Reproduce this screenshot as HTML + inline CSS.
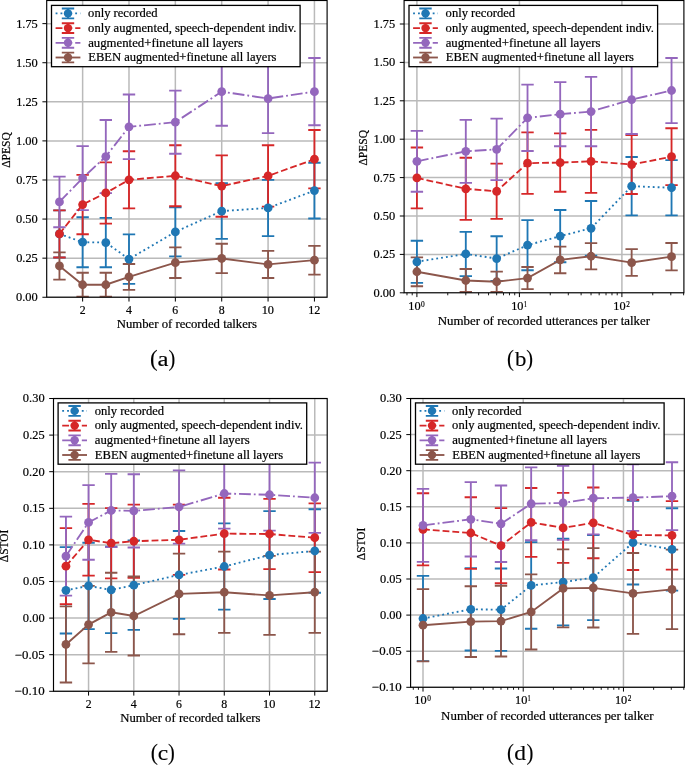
<!DOCTYPE html>
<html><head><meta charset="utf-8"><style>
html,body{margin:0;padding:0;background:#fff;}
svg{display:block;will-change:transform;font-family:"Liberation Serif",serif;}
text{stroke:#000;stroke-width:0.2px;}
</style></head><body>
<svg width="685" height="765" viewBox="0 0 685 765">
<rect width="685" height="765" fill="#fff"/>
<clipPath id="clipa"><rect x="46.7" y="0.5" width="280.40000000000003" height="296.75"/></clipPath>
<path d="M82.63 0.5V297.25 M128.99 0.5V297.25 M175.35 0.5V297.25 M221.71 0.5V297.25 M268.07 0.5V297.25 M314.43 0.5V297.25 M46.7 297.25H327.1 M46.7 258.16H327.1 M46.7 219.07H327.1 M46.7 179.99H327.1 M46.7 140.90H327.1 M46.7 101.81H327.1 M46.7 62.73H327.1 M46.7 23.64H327.1" stroke="#bababa" stroke-width="1.5" fill="none" clip-path="url(#clipa)"/>
<g clip-path="url(#clipa)">
<path d="M59.45 210.32V257.54 M53.25 210.32H65.65 M53.25 257.54H65.65 M82.63 217.20V267.23 M76.43 217.20H88.83 M76.43 267.23H88.83 M105.81 217.82V267.23 M99.61 217.82H112.01 M99.61 267.23H112.01 M128.99 234.40V283.80 M122.79 234.40H135.19 M122.79 283.80H135.19 M175.35 207.35V256.44 M169.15 207.35H181.55 M169.15 256.44H181.55 M221.71 183.27V238.93 M215.51 183.27H227.91 M215.51 238.93H227.91 M268.07 179.83V236.12 M261.87 179.83H274.27 M261.87 236.12H274.27 M314.43 162.79V218.45 M308.23 162.79H320.63 M308.23 218.45H320.63" stroke="#1f77b4" stroke-width="1.85" fill="none"/>
<path d="M59.45 210.32V257.54 M53.25 210.32H65.65 M53.25 257.54H65.65 M82.63 174.83V234.24 M76.43 174.83H88.83 M76.43 234.24H88.83 M105.81 162.32V223.61 M99.61 162.32H112.01 M99.61 223.61H112.01 M128.99 151.22V208.44 M122.79 151.22H135.19 M122.79 208.44H135.19 M175.35 145.28V206.25 M169.15 145.28H181.55 M169.15 206.25H181.55 M221.71 155.44V216.73 M215.51 155.44H227.91 M215.51 216.73H227.91 M268.07 145.28V206.57 M261.87 145.28H274.27 M261.87 206.57H274.27 M314.43 129.96V188.43 M308.23 129.96H320.63 M308.23 188.43H320.63" stroke="#d62728" stroke-width="1.85" fill="none"/>
<path d="M59.45 176.55V227.21 M53.25 176.55H65.65 M53.25 227.21H65.65 M82.63 146.06V210.16 M76.43 146.06H88.83 M76.43 210.16H88.83 M105.81 119.95V193.12 M99.61 119.95H112.01 M99.61 193.12H112.01 M128.99 94.46V159.19 M122.79 94.46H135.19 M122.79 159.19H135.19 M175.35 90.56V153.72 M169.15 90.56H181.55 M169.15 153.72H181.55 M221.71 57.57V125.73 M215.51 57.57H227.91 M215.51 125.73H227.91 M268.07 63.98V133.08 M261.87 63.98H274.27 M261.87 133.08H274.27 M314.43 58.03V125.27 M308.23 58.03H320.63 M308.23 125.27H320.63" stroke="#9467bd" stroke-width="1.85" fill="none"/>
<path d="M59.45 252.38V279.58 M53.25 252.38H65.65 M53.25 279.58H65.65 M82.63 272.70V296.78 M76.43 272.70H88.83 M76.43 296.78H88.83 M105.81 272.70V296.78 M99.61 272.70H112.01 M99.61 296.78H112.01 M128.99 263.95V289.90 M122.79 263.95H135.19 M122.79 289.90H135.19 M175.35 247.37V278.02 M169.15 247.37H181.55 M169.15 278.02H181.55 M221.71 243.78V273.17 M215.51 243.78H227.91 M215.51 273.17H227.91 M268.07 250.81V278.02 M261.87 250.81H274.27 M261.87 278.02H274.27 M314.43 245.81V274.58 M308.23 245.81H320.63 M308.23 274.58H320.63" stroke="#8c564b" stroke-width="1.85" fill="none"/>
<polyline points="59.45,233.93 82.63,242.21 105.81,242.53 128.99,259.10 175.35,231.90 221.71,211.10 268.07,207.97 314.43,190.62" stroke="#1f77b4" stroke-width="1.85" fill="none" stroke-dasharray="1.85,3.05"/>
<circle cx="59.45" cy="233.93" r="4.4" fill="#1f77b4"/>
<circle cx="82.63" cy="242.21" r="4.4" fill="#1f77b4"/>
<circle cx="105.81" cy="242.53" r="4.4" fill="#1f77b4"/>
<circle cx="128.99" cy="259.10" r="4.4" fill="#1f77b4"/>
<circle cx="175.35" cy="231.90" r="4.4" fill="#1f77b4"/>
<circle cx="221.71" cy="211.10" r="4.4" fill="#1f77b4"/>
<circle cx="268.07" cy="207.97" r="4.4" fill="#1f77b4"/>
<circle cx="314.43" cy="190.62" r="4.4" fill="#1f77b4"/>
<polyline points="59.45,233.93 82.63,204.53 105.81,192.96 128.99,179.83 175.35,175.77 221.71,186.09 268.07,175.92 314.43,159.19" stroke="#d62728" stroke-width="1.85" fill="none" stroke-dasharray="6.85,2.96"/>
<circle cx="59.45" cy="233.93" r="4.4" fill="#d62728"/>
<circle cx="82.63" cy="204.53" r="4.4" fill="#d62728"/>
<circle cx="105.81" cy="192.96" r="4.4" fill="#d62728"/>
<circle cx="128.99" cy="179.83" r="4.4" fill="#d62728"/>
<circle cx="175.35" cy="175.77" r="4.4" fill="#d62728"/>
<circle cx="221.71" cy="186.09" r="4.4" fill="#d62728"/>
<circle cx="268.07" cy="175.92" r="4.4" fill="#d62728"/>
<circle cx="314.43" cy="159.19" r="4.4" fill="#d62728"/>
<polyline points="59.45,201.88 82.63,178.11 105.81,156.53 128.99,126.83 175.35,122.14 221.71,91.65 268.07,98.53 314.43,91.65" stroke="#9467bd" stroke-width="1.85" fill="none" stroke-dasharray="11.84,2.96,1.85,2.96"/>
<circle cx="59.45" cy="201.88" r="4.4" fill="#9467bd"/>
<circle cx="82.63" cy="178.11" r="4.4" fill="#9467bd"/>
<circle cx="105.81" cy="156.53" r="4.4" fill="#9467bd"/>
<circle cx="128.99" cy="126.83" r="4.4" fill="#9467bd"/>
<circle cx="175.35" cy="122.14" r="4.4" fill="#9467bd"/>
<circle cx="221.71" cy="91.65" r="4.4" fill="#9467bd"/>
<circle cx="268.07" cy="98.53" r="4.4" fill="#9467bd"/>
<circle cx="314.43" cy="91.65" r="4.4" fill="#9467bd"/>
<polyline points="59.45,265.98 82.63,284.74 105.81,284.74 128.99,276.92 175.35,262.70 221.71,258.48 268.07,264.42 314.43,260.20" stroke="#8c564b" stroke-width="1.85" fill="none" />
<circle cx="59.45" cy="265.98" r="4.4" fill="#8c564b"/>
<circle cx="82.63" cy="284.74" r="4.4" fill="#8c564b"/>
<circle cx="105.81" cy="284.74" r="4.4" fill="#8c564b"/>
<circle cx="128.99" cy="276.92" r="4.4" fill="#8c564b"/>
<circle cx="175.35" cy="262.70" r="4.4" fill="#8c564b"/>
<circle cx="221.71" cy="258.48" r="4.4" fill="#8c564b"/>
<circle cx="268.07" cy="264.42" r="4.4" fill="#8c564b"/>
<circle cx="314.43" cy="260.20" r="4.4" fill="#8c564b"/>
</g>
<rect x="46.7" y="0.5" width="280.40000000000003" height="296.75" fill="none" stroke="#000" stroke-width="1.15"/>
<path d="M82.63 297.25v4.3 M128.99 297.25v4.3 M175.35 297.25v4.3 M221.71 297.25v4.3 M268.07 297.25v4.3 M314.43 297.25v4.3 M46.7 297.25h-4.3 M46.7 258.16h-4.3 M46.7 219.07h-4.3 M46.7 179.99h-4.3 M46.7 140.90h-4.3 M46.7 101.81h-4.3 M46.7 62.73h-4.3 M46.7 23.64h-4.3" stroke="#000" stroke-width="1"/>
<text x="16.06" y="301.15" font-size="12.0" textLength="21.73" lengthAdjust="spacingAndGlyphs" fill="#000" >0.00</text>
<text x="16.16" y="262.06" font-size="12.0" textLength="21.63" lengthAdjust="spacingAndGlyphs" fill="#000" >0.25</text>
<text x="16.06" y="222.97" font-size="12.0" textLength="21.73" lengthAdjust="spacingAndGlyphs" fill="#000" >0.50</text>
<text x="16.16" y="183.89" font-size="12.0" textLength="21.63" lengthAdjust="spacingAndGlyphs" fill="#000" >0.75</text>
<text x="16.05" y="144.80" font-size="12.0" textLength="21.75" lengthAdjust="spacingAndGlyphs" fill="#000" >1.00</text>
<text x="16.15" y="105.71" font-size="12.0" textLength="21.64" lengthAdjust="spacingAndGlyphs" fill="#000" >1.25</text>
<text x="16.05" y="66.63" font-size="12.0" textLength="21.75" lengthAdjust="spacingAndGlyphs" fill="#000" >1.50</text>
<text x="16.15" y="27.54" font-size="12.0" textLength="21.64" lengthAdjust="spacingAndGlyphs" fill="#000" >1.75</text>
<text x="79.75" y="313.55" font-size="12.0" textLength="5.88" lengthAdjust="spacingAndGlyphs" fill="#000" >2</text>
<text x="126.01" y="313.55" font-size="12.0" textLength="5.91" lengthAdjust="spacingAndGlyphs" fill="#000" >4</text>
<text x="172.35" y="313.55" font-size="12.0" textLength="5.87" lengthAdjust="spacingAndGlyphs" fill="#000" >6</text>
<text x="218.73" y="313.55" font-size="12.0" textLength="5.95" lengthAdjust="spacingAndGlyphs" fill="#000" >8</text>
<text x="261.65" y="313.55" font-size="12.0" textLength="12.28" lengthAdjust="spacingAndGlyphs" fill="#000" >10</text>
<text x="308.17" y="313.55" font-size="12.0" textLength="12.14" lengthAdjust="spacingAndGlyphs" fill="#000" >12</text>
<text x="116.77" y="327.80" font-size="12.0" textLength="140.29" lengthAdjust="spacingAndGlyphs" fill="#000" >Number of recorded talkers</text>
<text transform="translate(10.30,149.88) rotate(-90)" x="-17.96" y="0" font-size="12.0" textLength="35.67" lengthAdjust="spacingAndGlyphs" fill="#000" >ΔPESQ</text>
<rect x="51.50" y="5.40" width="248.6" height="61.3" fill="#fff" stroke="#000" stroke-width="1.3"/>
<path d="M68.00 8.50V18.30M61.80 8.50H74.20M61.80 18.30H74.20" stroke="#1f77b4" stroke-width="1.85" fill="none"/>
<path d="M55.60 13.40H80.40" stroke="#1f77b4" stroke-width="1.85" fill="none" stroke-dasharray="1.85,3.05"/>
<circle cx="68.00" cy="13.40" r="4.2" fill="#1f77b4"/>
<text x="88.10" y="17.20" font-size="12.0" textLength="69.44" lengthAdjust="spacingAndGlyphs" fill="#000" >only recorded</text>
<path d="M68.00 23.20V33.00M61.80 23.20H74.20M61.80 33.00H74.20" stroke="#d62728" stroke-width="1.85" fill="none"/>
<path d="M55.60 28.10H80.40" stroke="#d62728" stroke-width="1.85" fill="none" stroke-dasharray="6.85,2.96"/>
<circle cx="68.00" cy="28.10" r="4.2" fill="#d62728"/>
<text x="88.10" y="31.90" font-size="12.0" textLength="208.31" lengthAdjust="spacingAndGlyphs" fill="#000" >only augmented, speech-dependent indiv.</text>
<path d="M68.00 37.90V47.70M61.80 37.90H74.20M61.80 47.70H74.20" stroke="#9467bd" stroke-width="1.85" fill="none"/>
<path d="M55.60 42.80H80.40" stroke="#9467bd" stroke-width="1.85" fill="none" stroke-dasharray="11.84,2.96,1.85,2.96"/>
<circle cx="68.00" cy="42.80" r="4.2" fill="#9467bd"/>
<text x="88.15" y="46.60" font-size="12.0" textLength="154.88" lengthAdjust="spacingAndGlyphs" fill="#000" >augmented+finetune all layers</text>
<path d="M68.00 52.60V62.40M61.80 52.60H74.20M61.80 62.40H74.20" stroke="#8c564b" stroke-width="1.85" fill="none"/>
<path d="M55.60 57.50H80.40" stroke="#8c564b" stroke-width="1.85" fill="none" />
<circle cx="68.00" cy="57.50" r="4.2" fill="#8c564b"/>
<text x="88.22" y="61.30" font-size="12.0" textLength="188.28" lengthAdjust="spacingAndGlyphs" fill="#000" >EBEN augmented+finetune all layers</text>
<text x="150.06" y="365.70" font-size="22.3" textLength="7.71" lengthAdjust="spacingAndGlyphs" style="stroke-width:0.12px">(</text>
<text x="157.43" y="365.70" font-size="20.5" textLength="11.01" lengthAdjust="spacingAndGlyphs" style="stroke-width:0.12px">a</text>
<text x="168.39" y="365.70" font-size="22.3" textLength="6.79" lengthAdjust="spacingAndGlyphs" style="stroke-width:0.12px">)</text>
<clipPath id="clipb"><rect x="404.1" y="0.5" width="279.79999999999995" height="292.3"/></clipPath>
<path d="M416.90 0.5V292.8 M519.40 0.5V292.8 M621.90 0.5V292.8 M404.1 292.80H683.9 M404.1 254.40H683.9 M404.1 216.00H683.9 M404.1 177.60H683.9 M404.1 139.20H683.9 M404.1 100.80H683.9 M404.1 62.40H683.9 M404.1 24.00H683.9" stroke="#bababa" stroke-width="1.5" fill="none" clip-path="url(#clipb)"/>
<g clip-path="url(#clipb)">
<path d="M416.90 240.73V282.82 M410.70 240.73H423.10 M410.70 282.82H423.10 M465.80 231.82V276.06 M459.60 231.82H472.00 M459.60 276.06H472.00 M496.66 236.28V280.82 M490.46 236.28H502.86 M490.46 280.82H502.86 M527.52 220.15V270.22 M521.32 220.15H533.72 M521.32 270.22H533.72 M560.19 210.01V262.23 M553.99 210.01H566.39 M553.99 262.23H566.39 M591.04 200.95V255.63 M584.84 200.95H597.24 M584.84 255.63H597.24 M631.65 157.02V215.39 M625.45 157.02H637.85 M625.45 215.39H637.85 M671.54 160.09V215.39 M665.34 160.09H677.74 M665.34 215.39H677.74" stroke="#1f77b4" stroke-width="1.85" fill="none"/>
<path d="M416.90 147.49V208.32 M410.70 147.49H423.10 M410.70 208.32H423.10 M465.80 157.79V219.84 M459.60 157.79H472.00 M459.60 219.84H472.00 M496.66 163.62V218.92 M490.46 163.62H502.86 M490.46 218.92H502.86 M527.52 132.44V193.88 M521.32 132.44H533.72 M521.32 193.88H533.72 M560.19 133.36V191.73 M553.99 133.36H566.39 M553.99 191.73H566.39 M591.04 129.83V192.81 M584.84 129.83H597.24 M584.84 192.81H597.24 M631.65 135.05V194.04 M625.45 135.05H637.85 M625.45 194.04H637.85 M671.54 128.29V185.13 M665.34 128.29H677.74 M665.34 185.13H677.74" stroke="#d62728" stroke-width="1.85" fill="none"/>
<path d="M416.90 130.91V191.73 M410.70 130.91H423.10 M410.70 191.73H423.10 M465.80 119.85V182.82 M459.60 119.85H472.00 M459.60 182.82H472.00 M496.66 118.62V180.06 M490.46 118.62H502.86 M490.46 180.06H502.86 M527.52 84.67V151.03 M521.32 84.67H533.72 M521.32 151.03H533.72 M560.19 82.06V146.27 M553.99 82.06H566.39 M553.99 146.27H566.39 M591.04 76.84V146.27 M584.84 76.84H597.24 M584.84 146.27H597.24 M631.65 65.16V133.98 M625.45 65.16H637.85 M625.45 133.98H637.85 M671.54 57.95V123.07 M665.34 57.95H677.74 M665.34 123.07H677.74" stroke="#9467bd" stroke-width="1.85" fill="none"/>
<path d="M416.90 257.32V286.20 M410.70 257.32H423.10 M410.70 286.20H423.10 M465.80 268.99V292.03 M459.60 268.99H472.00 M459.60 292.03H472.00 M496.66 271.60V291.88 M490.46 271.60H502.86 M490.46 291.88H502.86 M527.52 267.00V289.11 M521.32 267.00H533.72 M521.32 289.11H533.72 M560.19 246.57V273.29 M553.99 246.57H566.39 M553.99 273.29H566.39 M591.04 243.19V269.30 M584.84 243.19H597.24 M584.84 269.30H597.24 M631.65 249.18V275.90 M625.45 249.18H637.85 M625.45 275.90H637.85 M671.54 243.03V270.37 M665.34 243.03H677.74 M665.34 270.37H677.74" stroke="#8c564b" stroke-width="1.85" fill="none"/>
<polyline points="416.90,261.77 465.80,253.94 496.66,258.55 527.52,245.18 560.19,236.12 591.04,228.29 631.65,186.20 671.54,187.74" stroke="#1f77b4" stroke-width="1.85" fill="none" stroke-dasharray="1.85,3.05"/>
<circle cx="416.90" cy="261.77" r="4.4" fill="#1f77b4"/>
<circle cx="465.80" cy="253.94" r="4.4" fill="#1f77b4"/>
<circle cx="496.66" cy="258.55" r="4.4" fill="#1f77b4"/>
<circle cx="527.52" cy="245.18" r="4.4" fill="#1f77b4"/>
<circle cx="560.19" cy="236.12" r="4.4" fill="#1f77b4"/>
<circle cx="591.04" cy="228.29" r="4.4" fill="#1f77b4"/>
<circle cx="631.65" cy="186.20" r="4.4" fill="#1f77b4"/>
<circle cx="671.54" cy="187.74" r="4.4" fill="#1f77b4"/>
<polyline points="416.90,177.91 465.80,188.81 496.66,191.27 527.52,163.16 560.19,162.55 591.04,161.32 631.65,164.54 671.54,156.71" stroke="#d62728" stroke-width="1.85" fill="none" stroke-dasharray="6.85,2.96"/>
<circle cx="416.90" cy="177.91" r="4.4" fill="#d62728"/>
<circle cx="465.80" cy="188.81" r="4.4" fill="#d62728"/>
<circle cx="496.66" cy="191.27" r="4.4" fill="#d62728"/>
<circle cx="527.52" cy="163.16" r="4.4" fill="#d62728"/>
<circle cx="560.19" cy="162.55" r="4.4" fill="#d62728"/>
<circle cx="591.04" cy="161.32" r="4.4" fill="#d62728"/>
<circle cx="631.65" cy="164.54" r="4.4" fill="#d62728"/>
<circle cx="671.54" cy="156.71" r="4.4" fill="#d62728"/>
<polyline points="416.90,161.32 465.80,151.33 496.66,149.34 527.52,117.85 560.19,114.16 591.04,111.55 631.65,99.57 671.54,90.51" stroke="#9467bd" stroke-width="1.85" fill="none" stroke-dasharray="11.84,2.96,1.85,2.96"/>
<circle cx="416.90" cy="161.32" r="4.4" fill="#9467bd"/>
<circle cx="465.80" cy="151.33" r="4.4" fill="#9467bd"/>
<circle cx="496.66" cy="149.34" r="4.4" fill="#9467bd"/>
<circle cx="527.52" cy="117.85" r="4.4" fill="#9467bd"/>
<circle cx="560.19" cy="114.16" r="4.4" fill="#9467bd"/>
<circle cx="591.04" cy="111.55" r="4.4" fill="#9467bd"/>
<circle cx="631.65" cy="99.57" r="4.4" fill="#9467bd"/>
<circle cx="671.54" cy="90.51" r="4.4" fill="#9467bd"/>
<polyline points="416.90,271.76 465.80,280.51 496.66,281.74 527.52,278.05 560.19,259.93 591.04,256.24 631.65,262.54 671.54,256.70" stroke="#8c564b" stroke-width="1.85" fill="none" />
<circle cx="416.90" cy="271.76" r="4.4" fill="#8c564b"/>
<circle cx="465.80" cy="280.51" r="4.4" fill="#8c564b"/>
<circle cx="496.66" cy="281.74" r="4.4" fill="#8c564b"/>
<circle cx="527.52" cy="278.05" r="4.4" fill="#8c564b"/>
<circle cx="560.19" cy="259.93" r="4.4" fill="#8c564b"/>
<circle cx="591.04" cy="256.24" r="4.4" fill="#8c564b"/>
<circle cx="631.65" cy="262.54" r="4.4" fill="#8c564b"/>
<circle cx="671.54" cy="256.70" r="4.4" fill="#8c564b"/>
</g>
<rect x="404.1" y="0.5" width="279.79999999999995" height="292.3" fill="none" stroke="#000" stroke-width="1.15"/>
<path d="M416.90 292.8v4.3 M519.40 292.8v4.3 M621.90 292.8v4.3 M404.1 292.80h-4.3 M404.1 254.40h-4.3 M404.1 216.00h-4.3 M404.1 177.60h-4.3 M404.1 139.20h-4.3 M404.1 100.80h-4.3 M404.1 62.40h-4.3 M404.1 24.00h-4.3" stroke="#000" stroke-width="1"/>
<path d="M406.97 292.8v2.5 M412.21 292.8v2.5 M447.76 292.8v2.5 M465.80 292.8v2.5 M478.61 292.8v2.5 M488.54 292.8v2.5 M496.66 292.8v2.5 M503.52 292.8v2.5 M509.47 292.8v2.5 M514.71 292.8v2.5 M550.26 292.8v2.5 M568.30 292.8v2.5 M581.11 292.8v2.5 M591.04 292.8v2.5 M599.16 292.8v2.5 M606.02 292.8v2.5 M611.97 292.8v2.5 M617.21 292.8v2.5 M652.76 292.8v2.5 M670.80 292.8v2.5 M683.61 292.8v2.5" stroke="#000" stroke-width="0.9"/>
<text x="373.46" y="296.70" font-size="12.0" textLength="21.73" lengthAdjust="spacingAndGlyphs" fill="#000" >0.00</text>
<text x="373.56" y="258.30" font-size="12.0" textLength="21.63" lengthAdjust="spacingAndGlyphs" fill="#000" >0.25</text>
<text x="373.46" y="219.90" font-size="12.0" textLength="21.73" lengthAdjust="spacingAndGlyphs" fill="#000" >0.50</text>
<text x="373.56" y="181.50" font-size="12.0" textLength="21.63" lengthAdjust="spacingAndGlyphs" fill="#000" >0.75</text>
<text x="373.45" y="143.10" font-size="12.0" textLength="21.75" lengthAdjust="spacingAndGlyphs" fill="#000" >1.00</text>
<text x="373.55" y="104.70" font-size="12.0" textLength="21.64" lengthAdjust="spacingAndGlyphs" fill="#000" >1.25</text>
<text x="373.45" y="66.30" font-size="12.0" textLength="21.75" lengthAdjust="spacingAndGlyphs" fill="#000" >1.50</text>
<text x="373.55" y="27.90" font-size="12.0" textLength="21.64" lengthAdjust="spacingAndGlyphs" fill="#000" >1.75</text>
<text x="408.29" y="309.70" font-size="12.0" textLength="12.28" lengthAdjust="spacingAndGlyphs" fill="#000" >10</text>
<text x="421.08" y="306.70" font-size="8.399999999999999" textLength="3.69" lengthAdjust="spacingAndGlyphs" fill="#000" >0</text>
<text x="511.18" y="309.70" font-size="12.0" textLength="12.28" lengthAdjust="spacingAndGlyphs" fill="#000" >10</text>
<text x="523.72" y="306.70" font-size="8.399999999999999" textLength="3.24" lengthAdjust="spacingAndGlyphs" fill="#000" >1</text>
<text x="613.38" y="309.70" font-size="12.0" textLength="12.28" lengthAdjust="spacingAndGlyphs" fill="#000" >10</text>
<text x="626.13" y="306.70" font-size="8.399999999999999" textLength="3.64" lengthAdjust="spacingAndGlyphs" fill="#000" >2</text>
<text x="437.68" y="325.10" font-size="12.0" textLength="212.36" lengthAdjust="spacingAndGlyphs" fill="#000" >Number of recorded utterances per talker</text>
<text transform="translate(366.50,147.65) rotate(-90)" x="-17.96" y="0" font-size="12.0" textLength="35.67" lengthAdjust="spacingAndGlyphs" fill="#000" >ΔPESQ</text>
<rect x="409.00" y="5.40" width="248.6" height="61.3" fill="#fff" stroke="#000" stroke-width="1.3"/>
<path d="M425.50 8.50V18.30M419.30 8.50H431.70M419.30 18.30H431.70" stroke="#1f77b4" stroke-width="1.85" fill="none"/>
<path d="M413.10 13.40H437.90" stroke="#1f77b4" stroke-width="1.85" fill="none" stroke-dasharray="1.85,3.05"/>
<circle cx="425.50" cy="13.40" r="4.2" fill="#1f77b4"/>
<text x="445.60" y="17.20" font-size="12.0" textLength="69.44" lengthAdjust="spacingAndGlyphs" fill="#000" >only recorded</text>
<path d="M425.50 23.20V33.00M419.30 23.20H431.70M419.30 33.00H431.70" stroke="#d62728" stroke-width="1.85" fill="none"/>
<path d="M413.10 28.10H437.90" stroke="#d62728" stroke-width="1.85" fill="none" stroke-dasharray="6.85,2.96"/>
<circle cx="425.50" cy="28.10" r="4.2" fill="#d62728"/>
<text x="445.60" y="31.90" font-size="12.0" textLength="208.31" lengthAdjust="spacingAndGlyphs" fill="#000" >only augmented, speech-dependent indiv.</text>
<path d="M425.50 37.90V47.70M419.30 37.90H431.70M419.30 47.70H431.70" stroke="#9467bd" stroke-width="1.85" fill="none"/>
<path d="M413.10 42.80H437.90" stroke="#9467bd" stroke-width="1.85" fill="none" stroke-dasharray="11.84,2.96,1.85,2.96"/>
<circle cx="425.50" cy="42.80" r="4.2" fill="#9467bd"/>
<text x="445.65" y="46.60" font-size="12.0" textLength="154.88" lengthAdjust="spacingAndGlyphs" fill="#000" >augmented+finetune all layers</text>
<path d="M425.50 52.60V62.40M419.30 52.60H431.70M419.30 62.40H431.70" stroke="#8c564b" stroke-width="1.85" fill="none"/>
<path d="M413.10 57.50H437.90" stroke="#8c564b" stroke-width="1.85" fill="none" />
<circle cx="425.50" cy="57.50" r="4.2" fill="#8c564b"/>
<text x="445.72" y="61.30" font-size="12.0" textLength="188.28" lengthAdjust="spacingAndGlyphs" fill="#000" >EBEN augmented+finetune all layers</text>
<text x="506.96" y="365.70" font-size="22.3" textLength="6.92" lengthAdjust="spacingAndGlyphs" style="stroke-width:0.12px">(</text>
<text x="515.00" y="365.70" font-size="21.0" textLength="11.41" lengthAdjust="spacingAndGlyphs" style="stroke-width:0.12px">b</text>
<text x="526.19" y="365.70" font-size="22.3" textLength="6.79" lengthAdjust="spacingAndGlyphs" style="stroke-width:0.12px">)</text>
<clipPath id="clipc"><rect x="53.5" y="398.5" width="273.7" height="292.79999999999995"/></clipPath>
<path d="M88.56 398.5V691.3 M133.80 398.5V691.3 M179.04 398.5V691.3 M224.28 398.5V691.3 M269.52 398.5V691.3 M314.76 398.5V691.3 M53.5 691.30H327.2 M53.5 654.70H327.2 M53.5 618.10H327.2 M53.5 581.50H327.2 M53.5 544.90H327.2 M53.5 508.30H327.2 M53.5 471.70H327.2 M53.5 435.10H327.2 M53.5 398.50H327.2" stroke="#bababa" stroke-width="1.5" fill="none" clip-path="url(#clipc)"/>
<g clip-path="url(#clipc)">
<path d="M65.94 547.10V633.47 M59.74 547.10H72.14 M59.74 633.47H72.14 M88.56 542.70V629.08 M82.36 542.70H94.76 M82.36 629.08H94.76 M111.18 546.73V633.11 M104.98 546.73H117.38 M104.98 633.11H117.38 M133.80 540.51V629.81 M127.60 540.51H140.00 M127.60 629.81H140.00 M179.04 530.99V618.83 M172.84 530.99H185.24 M172.84 618.83H185.24 M224.28 523.31V609.68 M218.08 523.31H230.48 M218.08 609.68H230.48 M269.52 511.15V598.99 M263.32 511.15H275.72 M263.32 598.99H275.72 M314.76 509.25V592.70 M308.56 509.25H320.96 M308.56 592.70H320.96" stroke="#1f77b4" stroke-width="1.85" fill="none"/>
<path d="M65.94 528.06V604.19 M59.74 528.06H72.14 M59.74 604.19H72.14 M88.56 503.91V575.64 M82.36 503.91H94.76 M82.36 575.64H94.76 M111.18 508.08V578.35 M104.98 508.08H117.38 M104.98 578.35H117.38 M133.80 504.64V577.84 M127.60 504.64H140.00 M127.60 577.84H140.00 M179.04 504.64V574.91 M172.84 504.64H185.24 M172.84 574.91H185.24 M224.28 497.76V569.50 M218.08 497.76H230.48 M218.08 569.50H230.48 M269.52 498.86V569.13 M263.32 498.86H275.72 M263.32 569.13H275.72 M314.76 503.32V572.13 M308.56 503.32H320.96 M308.56 572.13H320.96" stroke="#d62728" stroke-width="1.85" fill="none"/>
<path d="M65.94 516.57V595.63 M59.74 516.57H72.14 M59.74 595.63H72.14 M88.56 485.10V559.76 M82.36 485.10H94.76 M82.36 559.76H94.76 M111.18 473.90V547.10 M104.98 473.90H117.38 M104.98 547.10H117.38 M133.80 474.26V547.46 M127.60 474.26H140.00 M127.60 547.46H140.00 M179.04 470.38V543.58 M172.84 470.38H185.24 M172.84 543.58H185.24 M224.28 458.38V528.65 M218.08 458.38H230.48 M218.08 528.65H230.48 M269.52 458.89V530.63 M263.32 458.89H275.72 M263.32 530.63H275.72 M314.76 462.62V532.90 M308.56 462.62H320.96 M308.56 532.90H320.96" stroke="#9467bd" stroke-width="1.85" fill="none"/>
<path d="M65.94 606.39V682.52 M59.74 606.39H72.14 M59.74 682.52H72.14 M88.56 585.82V663.41 M82.36 585.82H94.76 M82.36 663.41H94.76 M111.18 572.79V651.85 M104.98 572.79H117.38 M104.98 651.85H117.38 M133.80 576.45V655.51 M127.60 576.45H140.00 M127.60 655.51H140.00 M179.04 553.68V634.20 M172.84 553.68H185.24 M172.84 634.20H185.24 M224.28 551.63V632.89 M218.08 551.63H230.48 M218.08 632.89H230.48 M269.52 555.88V634.94 M263.32 555.88H275.72 M263.32 634.94H275.72 M314.76 551.63V632.89 M308.56 551.63H320.96 M308.56 632.89H320.96" stroke="#8c564b" stroke-width="1.85" fill="none"/>
<polyline points="65.94,590.28 88.56,585.89 111.18,589.92 133.80,585.16 179.04,574.91 224.28,566.49 269.52,555.07 314.76,550.98" stroke="#1f77b4" stroke-width="1.85" fill="none" stroke-dasharray="1.85,3.05"/>
<circle cx="65.94" cy="590.28" r="4.4" fill="#1f77b4"/>
<circle cx="88.56" cy="585.89" r="4.4" fill="#1f77b4"/>
<circle cx="111.18" cy="589.92" r="4.4" fill="#1f77b4"/>
<circle cx="133.80" cy="585.16" r="4.4" fill="#1f77b4"/>
<circle cx="179.04" cy="574.91" r="4.4" fill="#1f77b4"/>
<circle cx="224.28" cy="566.49" r="4.4" fill="#1f77b4"/>
<circle cx="269.52" cy="555.07" r="4.4" fill="#1f77b4"/>
<circle cx="314.76" cy="550.98" r="4.4" fill="#1f77b4"/>
<polyline points="65.94,566.13 88.56,539.78 111.18,543.22 133.80,541.24 179.04,539.78 224.28,533.63 269.52,533.99 314.76,537.73" stroke="#d62728" stroke-width="1.85" fill="none" stroke-dasharray="6.85,2.96"/>
<circle cx="65.94" cy="566.13" r="4.4" fill="#d62728"/>
<circle cx="88.56" cy="539.78" r="4.4" fill="#d62728"/>
<circle cx="111.18" cy="543.22" r="4.4" fill="#d62728"/>
<circle cx="133.80" cy="541.24" r="4.4" fill="#d62728"/>
<circle cx="179.04" cy="539.78" r="4.4" fill="#d62728"/>
<circle cx="224.28" cy="533.63" r="4.4" fill="#d62728"/>
<circle cx="269.52" cy="533.99" r="4.4" fill="#d62728"/>
<circle cx="314.76" cy="537.73" r="4.4" fill="#d62728"/>
<polyline points="65.94,556.10 88.56,522.43 111.18,510.50 133.80,510.86 179.04,506.98 224.28,493.51 269.52,494.76 314.76,497.76" stroke="#9467bd" stroke-width="1.85" fill="none" stroke-dasharray="11.84,2.96,1.85,2.96"/>
<circle cx="65.94" cy="556.10" r="4.4" fill="#9467bd"/>
<circle cx="88.56" cy="522.43" r="4.4" fill="#9467bd"/>
<circle cx="111.18" cy="510.50" r="4.4" fill="#9467bd"/>
<circle cx="133.80" cy="510.86" r="4.4" fill="#9467bd"/>
<circle cx="179.04" cy="506.98" r="4.4" fill="#9467bd"/>
<circle cx="224.28" cy="493.51" r="4.4" fill="#9467bd"/>
<circle cx="269.52" cy="494.76" r="4.4" fill="#9467bd"/>
<circle cx="314.76" cy="497.76" r="4.4" fill="#9467bd"/>
<polyline points="65.94,644.45 88.56,624.61 111.18,612.32 133.80,615.98 179.04,593.94 224.28,592.26 269.52,595.41 314.76,592.26" stroke="#8c564b" stroke-width="1.85" fill="none" />
<circle cx="65.94" cy="644.45" r="4.4" fill="#8c564b"/>
<circle cx="88.56" cy="624.61" r="4.4" fill="#8c564b"/>
<circle cx="111.18" cy="612.32" r="4.4" fill="#8c564b"/>
<circle cx="133.80" cy="615.98" r="4.4" fill="#8c564b"/>
<circle cx="179.04" cy="593.94" r="4.4" fill="#8c564b"/>
<circle cx="224.28" cy="592.26" r="4.4" fill="#8c564b"/>
<circle cx="269.52" cy="595.41" r="4.4" fill="#8c564b"/>
<circle cx="314.76" cy="592.26" r="4.4" fill="#8c564b"/>
</g>
<rect x="53.5" y="398.5" width="273.7" height="292.79999999999995" fill="none" stroke="#000" stroke-width="1.15"/>
<path d="M88.56 691.3v4.3 M133.80 691.3v4.3 M179.04 691.3v4.3 M224.28 691.3v4.3 M269.52 691.3v4.3 M314.76 691.3v4.3 M53.5 691.30h-4.3 M53.5 654.70h-4.3 M53.5 618.10h-4.3 M53.5 581.50h-4.3 M53.5 544.90h-4.3 M53.5 508.30h-4.3 M53.5 471.70h-4.3 M53.5 435.10h-4.3 M53.5 398.50h-4.3" stroke="#000" stroke-width="1"/>
<text x="14.80" y="695.20" font-size="12.0" textLength="29.81" lengthAdjust="spacingAndGlyphs" fill="#000" >−0.10</text>
<text x="14.90" y="658.60" font-size="12.0" textLength="29.70" lengthAdjust="spacingAndGlyphs" fill="#000" >−0.05</text>
<text x="22.86" y="622.00" font-size="12.0" textLength="21.73" lengthAdjust="spacingAndGlyphs" fill="#000" >0.00</text>
<text x="22.96" y="585.40" font-size="12.0" textLength="21.63" lengthAdjust="spacingAndGlyphs" fill="#000" >0.05</text>
<text x="22.86" y="548.80" font-size="12.0" textLength="21.73" lengthAdjust="spacingAndGlyphs" fill="#000" >0.10</text>
<text x="22.96" y="512.20" font-size="12.0" textLength="21.63" lengthAdjust="spacingAndGlyphs" fill="#000" >0.15</text>
<text x="22.86" y="475.60" font-size="12.0" textLength="21.73" lengthAdjust="spacingAndGlyphs" fill="#000" >0.20</text>
<text x="22.96" y="439.00" font-size="12.0" textLength="21.63" lengthAdjust="spacingAndGlyphs" fill="#000" >0.25</text>
<text x="22.86" y="402.40" font-size="12.0" textLength="21.73" lengthAdjust="spacingAndGlyphs" fill="#000" >0.30</text>
<text x="85.68" y="707.70" font-size="12.0" textLength="5.88" lengthAdjust="spacingAndGlyphs" fill="#000" >2</text>
<text x="130.82" y="707.70" font-size="12.0" textLength="5.91" lengthAdjust="spacingAndGlyphs" fill="#000" >4</text>
<text x="176.05" y="707.70" font-size="12.0" textLength="5.87" lengthAdjust="spacingAndGlyphs" fill="#000" >6</text>
<text x="221.31" y="707.70" font-size="12.0" textLength="5.95" lengthAdjust="spacingAndGlyphs" fill="#000" >8</text>
<text x="263.11" y="707.70" font-size="12.0" textLength="12.28" lengthAdjust="spacingAndGlyphs" fill="#000" >10</text>
<text x="308.51" y="707.70" font-size="12.0" textLength="12.14" lengthAdjust="spacingAndGlyphs" fill="#000" >12</text>
<text x="120.22" y="721.60" font-size="12.0" textLength="140.29" lengthAdjust="spacingAndGlyphs" fill="#000" >Number of recorded talkers</text>
<text transform="translate(7.80,545.90) rotate(-90)" x="-16.27" y="0" font-size="12.0" textLength="32.45" lengthAdjust="spacingAndGlyphs" fill="#000" >ΔSTOI</text>
<rect x="58.10" y="402.90" width="248.6" height="61.3" fill="#fff" stroke="#000" stroke-width="1.3"/>
<path d="M74.60 406.00V415.80M68.40 406.00H80.80M68.40 415.80H80.80" stroke="#1f77b4" stroke-width="1.85" fill="none"/>
<path d="M62.20 410.90H87.00" stroke="#1f77b4" stroke-width="1.85" fill="none" stroke-dasharray="1.85,3.05"/>
<circle cx="74.60" cy="410.90" r="4.2" fill="#1f77b4"/>
<text x="94.70" y="414.70" font-size="12.0" textLength="69.44" lengthAdjust="spacingAndGlyphs" fill="#000" >only recorded</text>
<path d="M74.60 420.70V430.50M68.40 420.70H80.80M68.40 430.50H80.80" stroke="#d62728" stroke-width="1.85" fill="none"/>
<path d="M62.20 425.60H87.00" stroke="#d62728" stroke-width="1.85" fill="none" stroke-dasharray="6.85,2.96"/>
<circle cx="74.60" cy="425.60" r="4.2" fill="#d62728"/>
<text x="94.70" y="429.40" font-size="12.0" textLength="208.31" lengthAdjust="spacingAndGlyphs" fill="#000" >only augmented, speech-dependent indiv.</text>
<path d="M74.60 435.40V445.20M68.40 435.40H80.80M68.40 445.20H80.80" stroke="#9467bd" stroke-width="1.85" fill="none"/>
<path d="M62.20 440.30H87.00" stroke="#9467bd" stroke-width="1.85" fill="none" stroke-dasharray="11.84,2.96,1.85,2.96"/>
<circle cx="74.60" cy="440.30" r="4.2" fill="#9467bd"/>
<text x="94.75" y="444.10" font-size="12.0" textLength="154.88" lengthAdjust="spacingAndGlyphs" fill="#000" >augmented+finetune all layers</text>
<path d="M74.60 450.10V459.90M68.40 450.10H80.80M68.40 459.90H80.80" stroke="#8c564b" stroke-width="1.85" fill="none"/>
<path d="M62.20 455.00H87.00" stroke="#8c564b" stroke-width="1.85" fill="none" />
<circle cx="74.60" cy="455.00" r="4.2" fill="#8c564b"/>
<text x="94.82" y="458.80" font-size="12.0" textLength="188.28" lengthAdjust="spacingAndGlyphs" fill="#000" >EBEN augmented+finetune all layers</text>
<text x="150.73" y="760.30" font-size="22.3" textLength="7.18" lengthAdjust="spacingAndGlyphs" style="stroke-width:0.12px">(</text>
<text x="157.66" y="760.30" font-size="21.0" textLength="10.42" lengthAdjust="spacingAndGlyphs" style="stroke-width:0.12px">c</text>
<text x="167.99" y="760.30" font-size="22.3" textLength="6.79" lengthAdjust="spacingAndGlyphs" style="stroke-width:0.12px">)</text>
<clipPath id="clipd"><rect x="410.6" y="398.5" width="273.69999999999993" height="288.79999999999995"/></clipPath>
<path d="M423.00 398.5V687.3 M523.23 398.5V687.3 M623.46 398.5V687.3 M410.6 687.30H684.3 M410.6 651.20H684.3 M410.6 615.10H684.3 M410.6 579.00H684.3 M410.6 542.90H684.3 M410.6 506.80H684.3 M410.6 470.70H684.3 M410.6 434.60H684.3 M410.6 398.50H684.3" stroke="#bababa" stroke-width="1.5" fill="none" clip-path="url(#clipd)"/>
<g clip-path="url(#clipd)">
<path d="M423.00 575.90V661.09 M416.80 575.90H429.20 M416.80 661.09H429.20 M470.82 568.17V650.48 M464.62 568.17H477.02 M464.62 650.48H477.02 M500.99 568.53V650.84 M494.79 568.53H507.19 M494.79 650.84H507.19 M531.17 542.11V628.75 M524.97 542.11H537.37 M524.97 628.75H537.37 M563.12 538.78V625.42 M556.92 538.78H569.32 M556.92 625.42H569.32 M593.29 534.96V620.15 M587.09 534.96H599.49 M587.09 620.15H599.49 M633.00 500.74V584.49 M626.80 500.74H639.20 M626.80 584.49H639.20 M672.00 508.24V590.55 M665.80 508.24H678.20 M665.80 590.55H678.20" stroke="#1f77b4" stroke-width="1.85" fill="none"/>
<path d="M423.00 493.23V565.43 M416.80 493.23H429.20 M416.80 565.43H429.20 M470.82 497.20V568.82 M464.62 497.20H477.02 M464.62 568.82H477.02 M500.99 508.17V583.26 M494.79 508.17H507.19 M494.79 583.26H507.19 M531.17 487.96V556.83 M524.97 487.96H537.37 M524.97 556.83H537.37 M563.12 492.87V562.90 M556.92 492.87H569.32 M556.92 562.90H569.32 M593.29 487.45V558.21 M587.09 487.45H599.49 M587.09 558.21H599.49 M633.00 499.94V569.98 M626.80 499.94H639.20 M626.80 569.98H639.20 M672.00 501.10V569.69 M665.80 501.10H678.20 M665.80 569.69H678.20" stroke="#d62728" stroke-width="1.85" fill="none"/>
<path d="M423.00 488.89V561.82 M416.80 488.89H429.20 M416.80 561.82H429.20 M470.82 482.11V556.47 M464.62 482.11H477.02 M464.62 556.47H477.02 M500.99 485.50V562.03 M494.79 485.50H507.19 M494.79 562.03H507.19 M531.17 467.31V540.23 M524.97 467.31H537.37 M524.97 540.23H537.37 M563.12 465.86V539.94 M556.92 465.86H569.32 M556.92 539.94H569.32 M593.29 462.11V534.31 M587.09 462.11H599.49 M587.09 534.31H599.49 M633.00 464.42V530.84 M626.80 464.42H639.20 M626.80 530.84H639.20 M672.00 462.25V530.12 M665.80 462.25H678.20 M665.80 530.12H678.20" stroke="#9467bd" stroke-width="1.85" fill="none"/>
<path d="M423.00 589.11V661.31 M416.80 589.11H429.20 M416.80 661.31H429.20 M470.82 586.22V656.98 M464.62 586.22H477.02 M464.62 656.98H477.02 M500.99 585.71V656.47 M494.79 585.71H507.19 M494.79 656.47H507.19 M531.17 574.38V649.47 M524.97 574.38H537.37 M524.97 649.47H537.37 M563.12 549.40V627.37 M556.92 549.40H569.32 M556.92 627.37H569.32 M593.29 548.10V627.52 M587.09 548.10H599.49 M587.09 627.52H599.49 M633.00 553.01V633.87 M626.80 553.01H639.20 M626.80 633.87H639.20 M672.00 549.69V629.11 M665.80 549.69H678.20 M665.80 629.11H678.20" stroke="#8c564b" stroke-width="1.85" fill="none"/>
<polyline points="423.00,618.49 470.82,609.32 500.99,609.68 531.17,585.43 563.12,582.10 593.29,577.56 633.00,542.61 672.00,549.40" stroke="#1f77b4" stroke-width="1.85" fill="none" stroke-dasharray="1.85,3.05"/>
<circle cx="423.00" cy="618.49" r="4.4" fill="#1f77b4"/>
<circle cx="470.82" cy="609.32" r="4.4" fill="#1f77b4"/>
<circle cx="500.99" cy="609.68" r="4.4" fill="#1f77b4"/>
<circle cx="531.17" cy="585.43" r="4.4" fill="#1f77b4"/>
<circle cx="563.12" cy="582.10" r="4.4" fill="#1f77b4"/>
<circle cx="593.29" cy="577.56" r="4.4" fill="#1f77b4"/>
<circle cx="633.00" cy="542.61" r="4.4" fill="#1f77b4"/>
<circle cx="672.00" cy="549.40" r="4.4" fill="#1f77b4"/>
<polyline points="423.00,529.33 470.82,533.01 500.99,545.72 531.17,522.40 563.12,527.88 593.29,522.83 633.00,534.96 672.00,535.39" stroke="#d62728" stroke-width="1.85" fill="none" stroke-dasharray="6.85,2.96"/>
<circle cx="423.00" cy="529.33" r="4.4" fill="#d62728"/>
<circle cx="470.82" cy="533.01" r="4.4" fill="#d62728"/>
<circle cx="500.99" cy="545.72" r="4.4" fill="#d62728"/>
<circle cx="531.17" cy="522.40" r="4.4" fill="#d62728"/>
<circle cx="563.12" cy="527.88" r="4.4" fill="#d62728"/>
<circle cx="593.29" cy="522.83" r="4.4" fill="#d62728"/>
<circle cx="633.00" cy="534.96" r="4.4" fill="#d62728"/>
<circle cx="672.00" cy="535.39" r="4.4" fill="#d62728"/>
<polyline points="423.00,525.36 470.82,519.29 500.99,523.77 531.17,503.77 563.12,502.90 593.29,498.21 633.00,497.63 672.00,496.19" stroke="#9467bd" stroke-width="1.85" fill="none" stroke-dasharray="11.84,2.96,1.85,2.96"/>
<circle cx="423.00" cy="525.36" r="4.4" fill="#9467bd"/>
<circle cx="470.82" cy="519.29" r="4.4" fill="#9467bd"/>
<circle cx="500.99" cy="523.77" r="4.4" fill="#9467bd"/>
<circle cx="531.17" cy="503.77" r="4.4" fill="#9467bd"/>
<circle cx="563.12" cy="502.90" r="4.4" fill="#9467bd"/>
<circle cx="593.29" cy="498.21" r="4.4" fill="#9467bd"/>
<circle cx="633.00" cy="497.63" r="4.4" fill="#9467bd"/>
<circle cx="672.00" cy="496.19" r="4.4" fill="#9467bd"/>
<polyline points="423.00,625.21 470.82,621.60 500.99,621.09 531.17,611.92 563.12,588.39 593.29,587.81 633.00,593.44 672.00,589.40" stroke="#8c564b" stroke-width="1.85" fill="none" />
<circle cx="423.00" cy="625.21" r="4.4" fill="#8c564b"/>
<circle cx="470.82" cy="621.60" r="4.4" fill="#8c564b"/>
<circle cx="500.99" cy="621.09" r="4.4" fill="#8c564b"/>
<circle cx="531.17" cy="611.92" r="4.4" fill="#8c564b"/>
<circle cx="563.12" cy="588.39" r="4.4" fill="#8c564b"/>
<circle cx="593.29" cy="587.81" r="4.4" fill="#8c564b"/>
<circle cx="633.00" cy="593.44" r="4.4" fill="#8c564b"/>
<circle cx="672.00" cy="589.40" r="4.4" fill="#8c564b"/>
</g>
<rect x="410.6" y="398.5" width="273.69999999999993" height="288.79999999999995" fill="none" stroke="#000" stroke-width="1.15"/>
<path d="M423.00 687.3v4.3 M523.23 687.3v4.3 M623.46 687.3v4.3 M410.6 687.30h-4.3 M410.6 651.20h-4.3 M410.6 615.10h-4.3 M410.6 579.00h-4.3 M410.6 542.90h-4.3 M410.6 506.80h-4.3 M410.6 470.70h-4.3 M410.6 434.60h-4.3 M410.6 398.50h-4.3" stroke="#000" stroke-width="1"/>
<path d="M413.29 687.3v2.5 M418.41 687.3v2.5 M453.17 687.3v2.5 M470.82 687.3v2.5 M483.34 687.3v2.5 M493.06 687.3v2.5 M500.99 687.3v2.5 M507.70 687.3v2.5 M513.52 687.3v2.5 M518.64 687.3v2.5 M553.40 687.3v2.5 M571.05 687.3v2.5 M583.57 687.3v2.5 M593.29 687.3v2.5 M601.22 687.3v2.5 M607.93 687.3v2.5 M613.75 687.3v2.5 M618.87 687.3v2.5 M653.63 687.3v2.5 M671.28 687.3v2.5 M683.80 687.3v2.5" stroke="#000" stroke-width="0.9"/>
<text x="371.90" y="691.20" font-size="12.0" textLength="29.81" lengthAdjust="spacingAndGlyphs" fill="#000" >−0.10</text>
<text x="372.00" y="655.10" font-size="12.0" textLength="29.70" lengthAdjust="spacingAndGlyphs" fill="#000" >−0.05</text>
<text x="379.96" y="619.00" font-size="12.0" textLength="21.73" lengthAdjust="spacingAndGlyphs" fill="#000" >0.00</text>
<text x="380.06" y="582.90" font-size="12.0" textLength="21.63" lengthAdjust="spacingAndGlyphs" fill="#000" >0.05</text>
<text x="379.96" y="546.80" font-size="12.0" textLength="21.73" lengthAdjust="spacingAndGlyphs" fill="#000" >0.10</text>
<text x="380.06" y="510.70" font-size="12.0" textLength="21.63" lengthAdjust="spacingAndGlyphs" fill="#000" >0.15</text>
<text x="379.96" y="474.60" font-size="12.0" textLength="21.73" lengthAdjust="spacingAndGlyphs" fill="#000" >0.20</text>
<text x="380.06" y="438.50" font-size="12.0" textLength="21.63" lengthAdjust="spacingAndGlyphs" fill="#000" >0.25</text>
<text x="379.96" y="402.40" font-size="12.0" textLength="21.73" lengthAdjust="spacingAndGlyphs" fill="#000" >0.30</text>
<text x="414.39" y="704.20" font-size="12.0" textLength="12.28" lengthAdjust="spacingAndGlyphs" fill="#000" >10</text>
<text x="427.18" y="701.20" font-size="8.399999999999999" textLength="3.69" lengthAdjust="spacingAndGlyphs" fill="#000" >0</text>
<text x="515.01" y="704.20" font-size="12.0" textLength="12.28" lengthAdjust="spacingAndGlyphs" fill="#000" >10</text>
<text x="527.55" y="701.20" font-size="8.399999999999999" textLength="3.24" lengthAdjust="spacingAndGlyphs" fill="#000" >1</text>
<text x="614.94" y="704.20" font-size="12.0" textLength="12.28" lengthAdjust="spacingAndGlyphs" fill="#000" >10</text>
<text x="627.69" y="701.20" font-size="8.399999999999999" textLength="3.64" lengthAdjust="spacingAndGlyphs" fill="#000" >2</text>
<text x="441.13" y="720.10" font-size="12.0" textLength="212.36" lengthAdjust="spacingAndGlyphs" fill="#000" >Number of recorded utterances per talker</text>
<text transform="translate(365.00,543.90) rotate(-90)" x="-16.27" y="0" font-size="12.0" textLength="32.45" lengthAdjust="spacingAndGlyphs" fill="#000" >ΔSTOI</text>
<rect x="415.50" y="402.90" width="248.6" height="61.3" fill="#fff" stroke="#000" stroke-width="1.3"/>
<path d="M432.00 406.00V415.80M425.80 406.00H438.20M425.80 415.80H438.20" stroke="#1f77b4" stroke-width="1.85" fill="none"/>
<path d="M419.60 410.90H444.40" stroke="#1f77b4" stroke-width="1.85" fill="none" stroke-dasharray="1.85,3.05"/>
<circle cx="432.00" cy="410.90" r="4.2" fill="#1f77b4"/>
<text x="452.10" y="414.70" font-size="12.0" textLength="69.44" lengthAdjust="spacingAndGlyphs" fill="#000" >only recorded</text>
<path d="M432.00 420.70V430.50M425.80 420.70H438.20M425.80 430.50H438.20" stroke="#d62728" stroke-width="1.85" fill="none"/>
<path d="M419.60 425.60H444.40" stroke="#d62728" stroke-width="1.85" fill="none" stroke-dasharray="6.85,2.96"/>
<circle cx="432.00" cy="425.60" r="4.2" fill="#d62728"/>
<text x="452.10" y="429.40" font-size="12.0" textLength="208.31" lengthAdjust="spacingAndGlyphs" fill="#000" >only augmented, speech-dependent indiv.</text>
<path d="M432.00 435.40V445.20M425.80 435.40H438.20M425.80 445.20H438.20" stroke="#9467bd" stroke-width="1.85" fill="none"/>
<path d="M419.60 440.30H444.40" stroke="#9467bd" stroke-width="1.85" fill="none" stroke-dasharray="11.84,2.96,1.85,2.96"/>
<circle cx="432.00" cy="440.30" r="4.2" fill="#9467bd"/>
<text x="452.15" y="444.10" font-size="12.0" textLength="154.88" lengthAdjust="spacingAndGlyphs" fill="#000" >augmented+finetune all layers</text>
<path d="M432.00 450.10V459.90M425.80 450.10H438.20M425.80 459.90H438.20" stroke="#8c564b" stroke-width="1.85" fill="none"/>
<path d="M419.60 455.00H444.40" stroke="#8c564b" stroke-width="1.85" fill="none" />
<circle cx="432.00" cy="455.00" r="4.2" fill="#8c564b"/>
<text x="452.22" y="458.80" font-size="12.0" textLength="188.28" lengthAdjust="spacingAndGlyphs" fill="#000" >EBEN augmented+finetune all layers</text>
<text x="506.96" y="760.20" font-size="22.3" textLength="6.92" lengthAdjust="spacingAndGlyphs" style="stroke-width:0.12px">(</text>
<text x="514.18" y="760.20" font-size="20.5" textLength="11.76" lengthAdjust="spacingAndGlyphs" style="stroke-width:0.12px">d</text>
<text x="526.38" y="760.20" font-size="22.3" textLength="6.92" lengthAdjust="spacingAndGlyphs" style="stroke-width:0.12px">)</text>
</svg>
</body></html>
